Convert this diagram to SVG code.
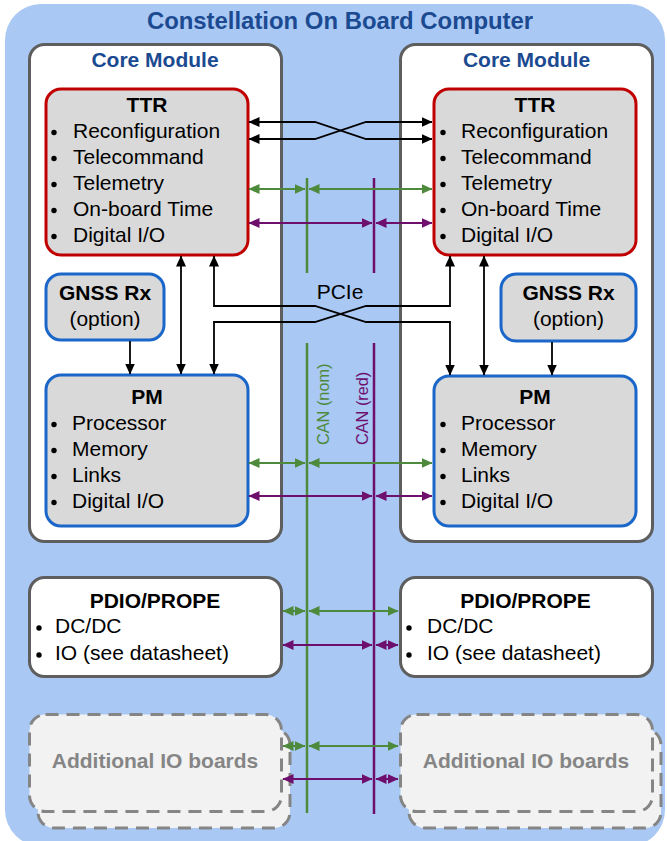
<svg xmlns="http://www.w3.org/2000/svg" width="667" height="841" viewBox="0 0 667 841">
<defs>
<style>
text{font-family:"Liberation Sans",Arial,sans-serif;font-size:21px;fill:#000}
.b{font-weight:bold}
.c{text-anchor:middle}
.hd{font-weight:bold;fill:#1B4A91;text-anchor:middle}
.core{fill:#fff;stroke:#5E5E5E;stroke-width:3}
.ttr{fill:#D9D9D9;stroke:#C00000;stroke-width:3}
.pm{fill:#D9D9D9;stroke:#1B66C9;stroke-width:3}
.io{fill:#fff;stroke:#5E5E5E;stroke-width:3}
.add{fill:#F2F2F2;stroke:#858585;stroke-width:3;stroke-dasharray:13 8}
.addt{font-weight:bold;fill:#858585;text-anchor:middle}
.k{fill:none;stroke:#000;stroke-width:1.8;marker-start:url(#ak);marker-end:url(#ak)}
.k1{fill:none;stroke:#000;stroke-width:1.8;marker-end:url(#ak)}
.g{fill:none;stroke:#4E8A3C;stroke-width:2;marker-start:url(#ag);marker-end:url(#ag)}
.p{fill:none;stroke:#6E0F6E;stroke-width:2;marker-start:url(#ap);marker-end:url(#ap)}
.gb{stroke:#4E8A3C;stroke-width:2.5}
.pb{stroke:#6E0F6E;stroke-width:2.5}
</style>
<marker id="ak" markerUnits="userSpaceOnUse" markerWidth="12" markerHeight="11" refX="10.5" refY="5.5" orient="auto-start-reverse"><path d="M0,0.5 L11,5.5 L0,10.5 z" fill="#000"/></marker>
<marker id="ag" markerUnits="userSpaceOnUse" markerWidth="12" markerHeight="11" refX="10.5" refY="5.5" orient="auto-start-reverse"><path d="M0,0.5 L11,5.5 L0,10.5 z" fill="#4E8A3C"/></marker>
<marker id="ap" markerUnits="userSpaceOnUse" markerWidth="12" markerHeight="11" refX="10.5" refY="5.5" orient="auto-start-reverse"><path d="M0,0.5 L11,5.5 L0,10.5 z" fill="#6E0F6E"/></marker>
</defs>
<rect width="667" height="841" fill="#fff"/>
<g id="obc">
<rect x="5" y="4" width="660" height="842" rx="36" fill="#A9C8F4"/>
<text class="hd" x="340" y="29" style="font-size:23.9px">Constellation On Board Computer</text>
</g>
<g id="core-left">
<rect class="core" x="29.5" y="44.5" width="252" height="497" rx="15"/>
<text class="hd" x="155" y="67">Core Module</text>
</g>
<g id="core-right">
<rect class="core" x="400.5" y="44.5" width="252" height="497" rx="15"/>
<text class="hd" x="526.5" y="67">Core Module</text>
</g>
<g id="ttr-left">
<rect class="ttr" x="46" y="89" width="202" height="166" rx="15"/>
<text class="b c" x="147" y="112">TTR</text>
<g fill="#000"><circle cx="54" cy="132.5" r="2.7"/><circle cx="54" cy="158.5" r="2.7"/><circle cx="54" cy="184.5" r="2.7"/><circle cx="54" cy="210.5" r="2.7"/><circle cx="54" cy="236.5" r="2.7"/></g>
<text x="73" y="138">Reconfiguration</text>
<text x="73" y="164">Telecommand</text>
<text x="73" y="190">Telemetry</text>
<text x="73" y="216">On-board Time</text>
<text x="73" y="242">Digital I/O</text>
</g>
<g id="ttr-right">
<rect class="ttr" x="434" y="89" width="202" height="166" rx="15"/>
<text class="b c" x="535" y="112">TTR</text>
<g fill="#000"><circle cx="443" cy="132.5" r="2.7"/><circle cx="443" cy="158.5" r="2.7"/><circle cx="443" cy="184.5" r="2.7"/><circle cx="443" cy="210.5" r="2.7"/><circle cx="443" cy="236.5" r="2.7"/></g>
<text x="461" y="138">Reconfiguration</text>
<text x="461" y="164">Telecommand</text>
<text x="461" y="190">Telemetry</text>
<text x="461" y="216">On-board Time</text>
<text x="461" y="242">Digital I/O</text>
</g>
<g id="gnss-left">
<rect class="pm" x="46" y="274" width="118" height="66" rx="15"/>
<text class="b c" x="105" y="300">GNSS Rx</text>
<text class="c" x="105" y="326">(option)</text>
</g>
<g id="gnss-right">
<rect class="pm" x="501" y="274" width="135" height="67" rx="15"/>
<text class="b c" x="568.5" y="300">GNSS Rx</text>
<text class="c" x="568.5" y="326">(option)</text>
</g>
<g id="pm-left">
<rect class="pm" x="46" y="375" width="202" height="151" rx="15"/>
<text class="b c" x="147" y="404">PM</text>
<g fill="#000"><circle cx="54" cy="424.5" r="2.7"/><circle cx="54" cy="450.5" r="2.7"/><circle cx="54" cy="476.5" r="2.7"/><circle cx="54" cy="502.5" r="2.7"/></g>
<text x="72" y="430">Processor</text>
<text x="72" y="456">Memory</text>
<text x="72" y="482">Links</text>
<text x="72" y="508">Digital I/O</text>
</g>
<g id="pm-right">
<rect class="pm" x="434" y="376" width="202" height="150" rx="15"/>
<text class="b c" x="535" y="404">PM</text>
<g fill="#000"><circle cx="443" cy="424.5" r="2.7"/><circle cx="443" cy="450.5" r="2.7"/><circle cx="443" cy="476.5" r="2.7"/><circle cx="443" cy="502.5" r="2.7"/></g>
<text x="461" y="430">Processor</text>
<text x="461" y="456">Memory</text>
<text x="461" y="482">Links</text>
<text x="461" y="508">Digital I/O</text>
</g>
<g id="pdio-left">
<rect class="io" x="29.5" y="577.5" width="252" height="99" rx="15"/>
<text class="b c" x="155" y="608">PDIO/PROPE</text>
<g fill="#000"><circle cx="39" cy="628" r="2.7"/><circle cx="39" cy="655" r="2.7"/></g>
<text x="55" y="633">DC/DC</text>
<text x="55" y="660">IO (see datasheet)</text>
</g>
<g id="pdio-right">
<rect class="io" x="400.5" y="577.5" width="252" height="99" rx="15"/>
<text class="b c" x="525.5" y="608">PDIO/PROPE</text>
<g fill="#000"><circle cx="409" cy="628" r="2.7"/><circle cx="409" cy="655" r="2.7"/></g>
<text x="427" y="633">DC/DC</text>
<text x="427" y="660">IO (see datasheet)</text>
</g>
<g id="addio-left">
<rect class="add" x="38" y="729" width="252" height="99" rx="16"/>
<rect class="add" x="29.5" y="714.5" width="252" height="97" rx="16"/>
<text class="addt" x="155" y="768">Additional IO boards</text>
</g>
<g id="addio-right">
<rect class="add" x="409" y="729" width="252" height="99" rx="16"/>
<rect class="add" x="400.5" y="714.5" width="252" height="97" rx="16"/>
<text class="addt" x="526" y="768">Additional IO boards</text>
</g>
<g id="buses">
<line class="gb" x1="307" y1="178" x2="307" y2="273"/>
<line class="gb" x1="307" y1="343" x2="307" y2="813"/>
<line class="pb" x1="374" y1="178" x2="374" y2="273"/>
<line class="pb" x1="374" y1="343" x2="374" y2="814"/>
<text x="0" y="0" transform="translate(329,445) rotate(-90)" style="font-size:16.3px;fill:#4E8A3C">CAN (nom)</text>
<text x="0" y="0" transform="translate(368,445) rotate(-90)" style="font-size:16.3px;fill:#6E0F6E">CAN (red)</text>
<text class="c" x="340" y="299">PCIe</text>
</g>
<g id="connectors">
<path class="k" d="M249,122 H315 L366,139 H432"/>
<path class="k" d="M249,139 H315 L366,122 H432"/>
<path class="k" d="M181,256 V374"/>
<path class="k" d="M484,256 V375"/>
<path class="k" d="M214,256 V306 H315 L366,322 H450 V375"/>
<path class="k" d="M214,374 V322 H315 L366,306 H450 V256"/>
<path class="k1" d="M130,341 V374"/>
<path class="k1" d="M552,342 V375"/>
<path class="g" d="M249,189 H305"/>
<path class="g" d="M309,189 H432"/>
<path class="p" d="M249,223 H372"/>
<path class="p" d="M376,223 H432"/>
<path class="g" d="M249,463 H305"/>
<path class="g" d="M309,463 H432"/>
<path class="p" d="M249,496 H372"/>
<path class="p" d="M376,496 H432"/>
<path class="g" d="M283,611 H305"/>
<path class="g" d="M309,611 H398"/>
<path class="p" d="M283,645 H372"/>
<path class="p" d="M376,645 H398"/>
<path class="g" d="M283,746 H305"/>
<path class="g" d="M309,746 H398"/>
<path class="p" d="M283,779 H372"/>
<path class="p" d="M376,779 H398"/>
</g>
</svg>
